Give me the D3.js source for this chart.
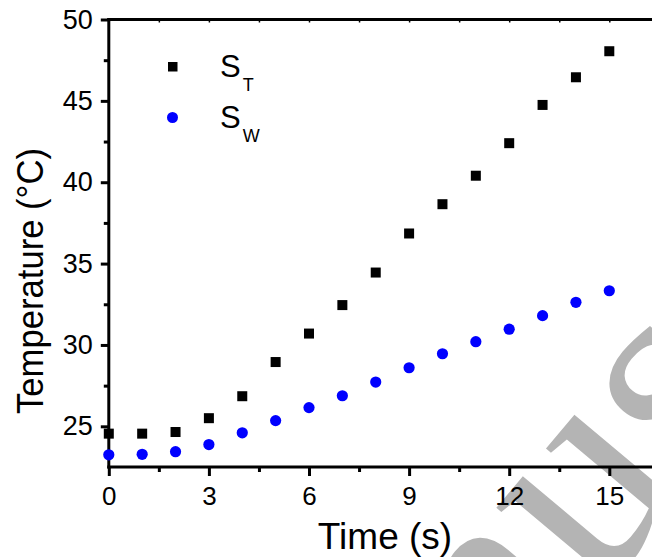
<!DOCTYPE html>
<html>
<head>
<meta charset="utf-8">
<script src="https://cdn.jsdelivr.net/npm/d3@7"></script>
<style>
  html, body { margin: 0; padding: 0; background: #fff; }
  svg { display: block; font-family: "Liberation Sans", Arial, sans-serif; }
</style>
</head>
<body>
<svg id="chart" width="652" height="557"></svg>
<script>
// ---- data ----
const times = [0, 1, 2, 3, 4, 5, 6, 7, 8, 9, 10, 11, 12, 13, 14, 15];
const sT = [24.55, 24.55, 24.65, 25.5, 26.85, 28.95, 30.7, 32.45, 34.45, 36.85, 38.65, 40.4, 42.4, 44.75, 46.45, 48.05];
const sW = [23.25, 23.28, 23.44, 23.88, 24.6, 25.35, 26.15, 26.88, 27.72, 28.6, 29.46, 30.2, 30.97, 31.8, 32.62, 33.33];
const xTicks = [0, 3, 6, 9, 12, 15];
const xMinor = [1.5, 4.5, 7.5, 10.5, 13.5, 16.5];
const yTicks = [25, 30, 35, 40, 45, 50];
const yMinor = [22.5, 27.5, 32.5, 37.5, 42.5, 47.5];
const seriesNames = ["T", "W"];
const xTitle = "Time (s)";
const yTitle = "Temperature (°C)";
const watermark = "Manuscript";

const svg = d3.select("#chart");
const x = d3.scaleLinear().domain([0, 15]).range([108.8, 609.3]);
const y = d3.scaleLinear().domain([22.5, 50]).range([467, 19.5]);

// watermark (behind everything)
svg.append("text")
  .attr("transform", "translate(250,1012) rotate(-50)")
  .attr("font-family", "Liberation Serif, serif")
  .attr("font-size", 295)
  .attr("fill", "#b4b4b4")
  .text(watermark);

const ink = "#000";
// axes lines
const xEnd = x(16.6);
svg.append("line").attr("x1", x(0) - 1.5).attr("x2", xEnd).attr("y1", y(22.5)).attr("y2", y(22.5))
  .attr("stroke", ink).attr("stroke-width", 3);
svg.append("line").attr("x1", x(0) - 1.5).attr("x2", xEnd).attr("y1", y(50)).attr("y2", y(50))
  .attr("stroke", ink).attr("stroke-width", 3);
svg.append("line").attr("x1", x(0)).attr("x2", x(0)).attr("y1", y(50) - 1.5).attr("y2", y(22.5) + 1.5)
  .attr("stroke", ink).attr("stroke-width", 3);

// bottom axis via d3
const gx = svg.append("g").attr("transform", `translate(0,${y(22.5)})`)
  .call(d3.axisBottom(x).tickValues(xTicks).tickSize(9).tickPadding(11).tickFormat(d3.format("d")));
gx.select(".domain").remove();
gx.selectAll(".tick line").attr("stroke-width", 3);
gx.selectAll(".tick text").attr("font-size", 26).attr("fill", ink).attr("font-family", "Liberation Sans, Arial, sans-serif");
const gxm = svg.append("g").attr("transform", `translate(0,${y(22.5)})`)
  .call(d3.axisBottom(x).tickValues(xMinor).tickSize(5).tickFormat(""));
gxm.select(".domain").remove();
gxm.selectAll(".tick line").attr("stroke-width", 3);

// top axis small ticks
const gt = svg.append("g").attr("transform", `translate(0,${y(50)})`)
  .call(d3.axisTop(x).tickValues(xTicks.concat(xMinor)).tickSize(-3).tickFormat(""));
gt.select(".domain").remove();
gt.selectAll(".tick line").attr("stroke-width", 1.5);

// left axis
const gy = svg.append("g").attr("transform", `translate(${x(0)},0)`)
  .call(d3.axisLeft(y).tickValues(yTicks).tickSize(8).tickPadding(8).tickFormat(d3.format("d")));
gy.select(".domain").remove();
gy.selectAll(".tick line").attr("stroke-width", 3);
gy.selectAll(".tick text").attr("font-size", 27).attr("fill", ink).attr("font-family", "Liberation Sans, Arial, sans-serif");
const gym = svg.append("g").attr("transform", `translate(${x(0)},0)`)
  .call(d3.axisLeft(y).tickValues(yMinor.filter(v => v > 22.5)).tickSize(5).tickFormat(""));
gym.select(".domain").remove();
gym.selectAll(".tick line").attr("stroke-width", 3);

// data
const sq = 10;
svg.append("g").selectAll("rect").data(times.map((t, i) => [t, sT[i]])).join("rect")
  .attr("x", d => x(d[0]) - sq / 2).attr("y", d => y(d[1]) - sq / 2)
  .attr("width", sq).attr("height", sq).attr("fill", "#000");
svg.append("g").selectAll("circle").data(times.map((t, i) => [t, sW[i]])).join("circle")
  .attr("cx", d => x(d[0])).attr("cy", d => y(d[1])).attr("r", 5.6).attr("fill", "#0000ff");

// legend
svg.append("rect").attr("x", 168).attr("y", 62).attr("width", 9.5).attr("height", 9.5).attr("fill", "#000");
svg.append("circle").attr("cx", 172.5).attr("cy", 117.5).attr("r", 5.5).attr("fill", "#0000ff");
[[77, seriesNames[0]], [128, seriesNames[1]]].forEach(([by, sub]) => {
  const t = svg.append("text").attr("x", 220).attr("y", by).attr("font-size", 31).attr("fill", ink);
  t.append("tspan").text("S");
  t.append("tspan").attr("font-size", 18).attr("dy", 14).attr("dx", 2).text(sub);
});

// axis titles
svg.append("text").attr("x", 385).attr("y", 549).attr("text-anchor", "middle")
  .attr("font-size", 37).attr("fill", ink).text(xTitle);
svg.append("text").attr("transform", "translate(43,281) rotate(-90)").attr("text-anchor", "middle")
  .attr("font-size", 37).attr("textLength", 266).attr("lengthAdjust", "spacingAndGlyphs")
  .attr("fill", ink).text(yTitle);
</script>
</body>
</html>
